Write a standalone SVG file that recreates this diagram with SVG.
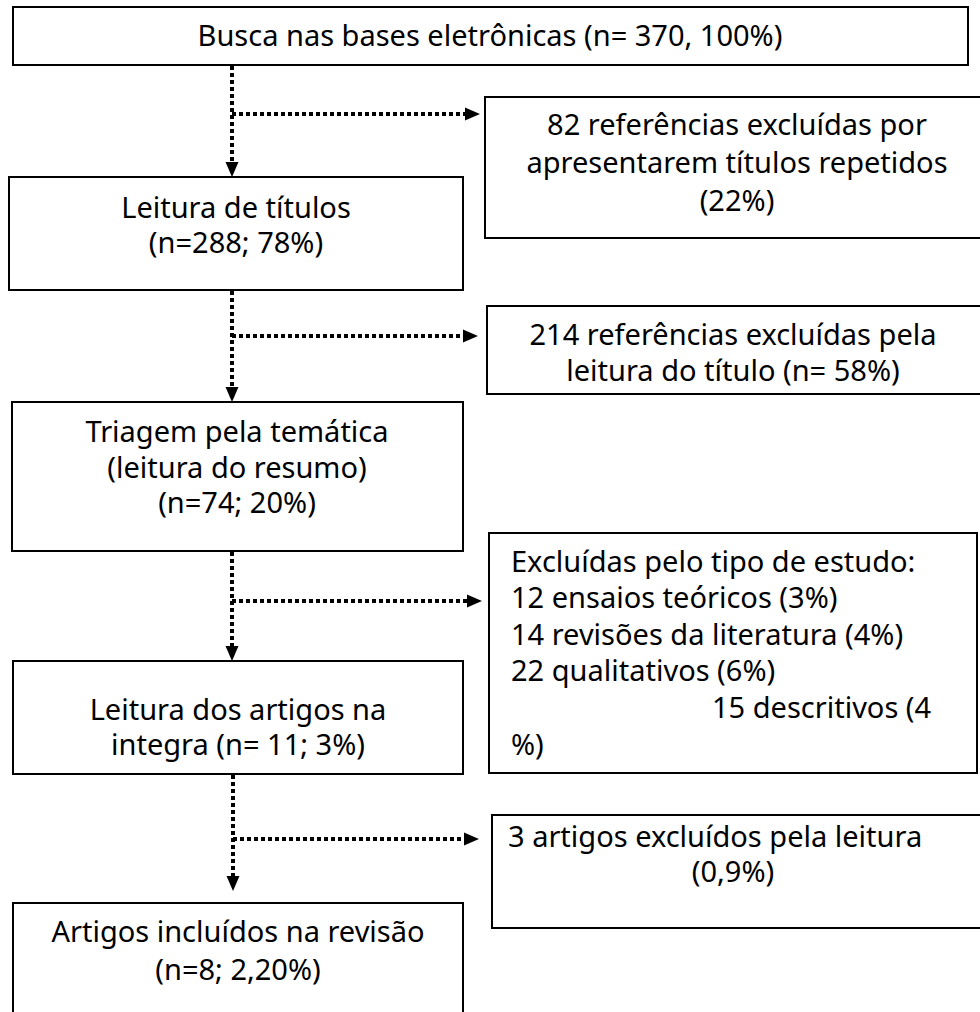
<svg xmlns="http://www.w3.org/2000/svg" width="980" height="1012" viewBox="0 0 980 1012">
<style>
.box{fill:#fff;stroke:#000;stroke-width:2}
.t{font-family:"Noto Sans","DejaVu Sans",sans-serif;font-size:29px;fill:#000}
.c{text-anchor:middle}
.con{fill:none;stroke:#000;stroke-width:4;stroke-dasharray:4 3}
.ah{fill:#000;stroke:none}
</style>
<rect width="980" height="1012" fill="#fff"/>
<g id="n1"><rect class="box" x="13" y="7" width="955" height="58"/><text class="t c" x="490" y="46">Busca nas bases eletrônicas (n= 370, 100%)</text></g>
<g id="n2"><rect class="box" x="485" y="97" width="500" height="141"/><text class="t c" x="737" y="135">82 referências excluídas por</text><text class="t c" x="737" y="173">apresentarem títulos repetidos</text><text class="t c" x="737" y="211">(22%)</text></g>
<g id="n3"><rect class="box" x="9" y="177" width="454" height="113"/><text class="t c" x="236" y="218">Leitura de títulos</text><text class="t c" x="236" y="253">(n=288; 78%)</text></g>
<g id="n4"><rect class="box" x="487" y="306" width="500" height="88"/><text class="t c" x="733" y="345">214 referências excluídas pela</text><text class="t c" x="733" y="381">leitura do título (n= 58%)</text></g>
<g id="n5"><rect class="box" x="12" y="402" width="451" height="149"/><text class="t c" x="237" y="442">Triagem pela temática</text><text class="t c" x="237" y="478">(leitura do resumo)</text><text class="t c" x="237" y="513">(n=74; 20%)</text></g>
<g id="n6"><rect class="box" x="489" y="533" width="488" height="240"/><text class="t" x="511" y="572">Excluídas pelo tipo de estudo:</text><text class="t" x="511" y="608">12 ensaios teóricos (3%)</text><text class="t" x="511" y="645">14 revisões da literatura (4%)</text><text class="t" x="511" y="681">22 qualitativos (6%)</text><text class="t" x="712" y="718">15 descritivos (4</text><text class="t" x="511" y="755">%)</text></g>
<g id="n7"><rect class="box" x="13" y="661" width="450" height="113"/><text class="t c" x="238" y="720">Leitura dos artigos na</text><text class="t c" x="238" y="755">integra (n= 11; 3%)</text></g>
<g id="n8"><rect class="box" x="492" y="815" width="493" height="113"/><text class="t" x="508" y="847">3 artigos excluídos pela leitura</text><text class="t c" x="733" y="882">(0,9%)</text></g>
<g id="n9"><rect class="box" x="13" y="903" width="450" height="120"/><text class="t c" x="238" y="942">Artigos incluídos na revisão</text><text class="t c" x="238" y="980">(n=8; 2,20%)</text></g>
<g id="connectors">
<path class="con" d="M232,66 V163"/><polygon class="ah" points="225.5,162 238.5,162 232,177"/>
<path class="con" d="M232,114 H466"/><polygon class="ah" points="465,107.5 465,120.5 480,114"/>
<path class="con" d="M232,291 V388"/><polygon class="ah" points="225.5,387 238.5,387 232,402"/>
<path class="con" d="M232,336 H464"/><polygon class="ah" points="463,329.5 463,342.5 478,336"/>
<path class="con" d="M232,552 V647"/><polygon class="ah" points="225.5,646 238.5,646 232,661"/>
<path class="con" d="M232,601 H468"/><polygon class="ah" points="467,594.5 467,607.5 482,601"/>
<path class="con" d="M233,775 V877"/><polygon class="ah" points="226.5,876 239.5,876 233,891"/>
<path class="con" d="M233,839 H465"/><polygon class="ah" points="464,832.5 464,845.5 479,839"/>
</g>
</svg>
